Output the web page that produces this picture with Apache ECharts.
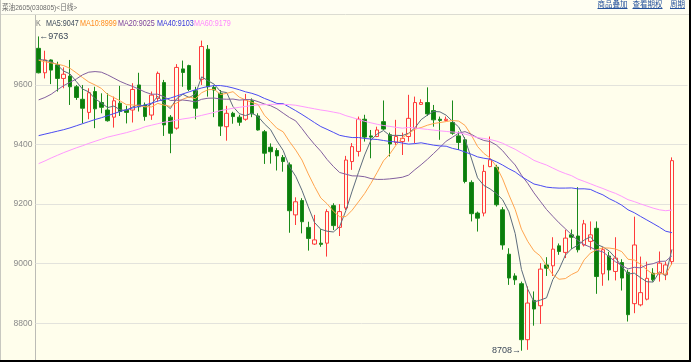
<!DOCTYPE html>
<html><head><meta charset="utf-8">
<script src="https://cdn.jsdelivr.net/npm/echarts@6/dist/echarts.min.js"></script>
<style>html,body{margin:0;padding:0;background:#fffeec;}#c{width:691px;height:362px;}</style>
</head><body><div id="c"></div>
<script>
// ---- data ----
const opens  = [9723,9641,9684,9667,9622,9630,9594,9552,9508,9578,9541,9516,9492,9539,9516,9516,9600,9533,9499,9555,
                9608,9492,9455,9654,9665,9581,9619,9720,9592,9572,9460,9505,9492,9485,9547,9496,9443,9391,9380,9357,
                9332,9164,9212,9122,9066,9069,9069,9195,9122,9187,9343,9377,9485,9429,9427,9477,9433,9407,9410,9427,
                9455,9535,9541,9514,9485,9481,9474,9429,9416,9273,9170,9170,9326,9324,9181,9032,8959,8933,8745,8877,
                8859,8996,8993,9060,9038,9097,9093,9063,9075,9119,8966,9026,8974,9004,8971,8866,8862,8881,8968,8966,
                8963,9007];
const closes = [9641,9684,9650,9622,9636,9594,9558,9522,9574,9520,9525,9480,9547,9511,9508,9585,9527,9494,9566,9639,
                9466,9438,9659,9642,9585,9522,9729,9594,9583,9462,9505,9494,9475,9550,9503,9449,9371,9376,9362,9343,
                9178,9208,9141,9085,9080,9065,9175,9128,9175,9348,9393,9485,9425,9425,9449,9452,9402,9427,9421,9488,
                9541,9541,9503,9483,9481,9485,9438,9407,9276,9168,9153,9310,9349,9198,9063,8952,8946,8745,8868,8848,
                8982,8985,9049,9041,9086,9089,9047,9134,9097,8957,9047,8979,9019,8952,8829,9063,8903,8951,8946,9002,
                8996,9346];
const lows   = [9639,9622,9603,9578,9589,9533,9550,9471,9485,9455,9505,9477,9457,9496,9471,9474,9511,9480,9483,9544,
                9429,9371,9450,9594,9580,9485,9600,9561,9492,9429,9413,9470,9463,9480,9492,9447,9335,9336,9313,9309,
                9104,9130,9102,9044,9063,9057,9024,9113,9093,9180,9315,9360,9410,9354,9425,9449,9360,9399,9365,9410,
                9405,9533,9496,9460,9416,9478,9433,9382,9270,9142,9108,9159,9324,9192,9047,8929,8929,8708,8711,8792,
                8798,8959,8959,9030,9019,9050,9038,9058,9047,8899,8926,8944,8944,8910,8806,8834,8857,8877,8940,8940,
                8945,8996];
const highs  = [9763,9715,9686,9678,9659,9684,9600,9600,9589,9594,9572,9572,9561,9597,9530,9606,9641,9541,9578,9645,
                9617,9499,9670,9682,9668,9594,9749,9734,9600,9583,9530,9510,9500,9570,9555,9505,9449,9404,9388,9365,
                9340,9223,9220,9141,9164,9116,9183,9203,9200,9362,9405,9494,9500,9449,9460,9548,9440,9483,9440,9567,
                9561,9552,9592,9533,9494,9494,9548,9444,9425,9280,9175,9332,9427,9332,9190,9052,8968,8940,8924,8907,
                9002,9022,9089,9068,9114,9115,9257,9147,9142,9142,9056,9040,9089,9015,8980,9158,9024,9007,8985,9041,
                9007,9357];
// moving-average values before each window is full
const ma5Lead  = [9686,9683,9678,9667];
const ma10Lead = [9683,9678,9674,9670,9665,9656,9641,9625,9610];
const ma20Lead = [9550,9558,9569,9584,9598,9609,9620,9634,9643,9645,9643,9634,9623,9612,9603,9595,9586,9576,9569];
const ma40Lead = [9430,9435,9440,9445,9450,9456,9463,9470,9477,9484,9490,9497,9504,9511,9517,9523,9528,9533,9539,9546,
                  9551,9556,9563,9570,9577,9584,9590,9595,9598,9598,9595,9590,9584,9577,9572,9565,9555,9547,9538];
const ma60Lead = [9336,9345,9355,9364,9373,9381,9389,9396,9404,9411,9418,9425,9430,9435,9440,9446,9452,9460,9465,9470,
                  9475,9478,9482,9486,9489,9493,9498,9503,9508,9514,9518,9522,9525,9528,9531,9533,9534,9535,9535,9535,
                  9534,9532,9528,9524,9520,9516,9513,9509,9505,9497,9491,9484,9478,9473,9468,9464,9461,9458,9455];
const yTicks = [8800,9000,9200,9400,9600];
const titleText = '菜油2605(030805)<日线>';
const legendTexts = ['K','MA5:9047','MA10:8999','MA20:9025','MA40:9103','MA60:9179'];
const linkTexts = ['商品叠加','查看期权','周期'];

// ---- chart ----
const categories = closes.map((_, i) => String(i + 1));
function movingAverage(period, lead) {
  return closes.map((c, i) => {
    if (i < period - 1) return lead[i];
    let s = 0;
    for (let k = i - period + 1; k <= i; k++) s += closes[k];
    return +(s / period).toFixed(1);
  });
}
const BG = '#fffeec';
const SANS = "'Liberation Sans',Arial,sans-serif";
const CJK = "'Liberation Sans','Noto Sans CJK SC',sans-serif";
const maColors = ['#5d6c7c','#ffa54f','#83609f','#4b4bf2','#ff99ff'];
const legendColors = ['#777777','#3e4b5b','#ff8a1c','#7a3f9c','#3535dc','#ff88ff'];
const legendX = [36,46,80,118,157,194];
const linkX = [597.5,632.5,670];

const chart = echarts.init(document.getElementById('c'), null, {renderer:'canvas'});
const maSeries = [[5,ma5Lead],[10,ma10Lead],[20,ma20Lead],[40,ma40Lead],[60,ma60Lead]].map((p, j) => ({
  type: 'line', name: 'MA' + p[0], data: movingAverage(p[0], p[1]),
  symbol: 'none', showSymbol: false, silent: true, z: 3,
  lineStyle: { width: 1, color: maColors[j] }
}));

const graphics = [
  { type:'rect', shape:{x:0,y:0,width:691,height:14.5}, style:{fill:'#fffef2'}, z:-1 },
  { type:'line', shape:{x1:0,y1:14.5,x2:691,y2:14.5}, style:{stroke:'#dcdcd2',lineWidth:1} },
  { type:'line', shape:{x1:0.5,y1:0,x2:0.5,y2:362}, style:{stroke:'#c8c8c0',lineWidth:1} },
  { type:'line', shape:{x1:35.5,y1:15,x2:35.5,y2:362}, style:{stroke:'#bcbcb6',lineWidth:1} },
  { type:'rect', shape:{x:0,y:360,width:691,height:2}, style:{fill:'#000'} },
  { type:'rect', shape:{x:689,y:0,width:2,height:362}, style:{fill:'#000'} },
  { type:'text', x:2, y:8, scaleX:0.88, style:{text:titleText, fill:'#6a6a6a', font:"7.5px " + CJK, textVerticalAlign:'middle'} }
];
legendTexts.forEach((t, i) => graphics.push({
  type:'text', x:legendX[i], y:24, scaleX:0.8,
  style:{text:t, fill:legendColors[i], font:"9px " + SANS, textVerticalAlign:'middle'}
}));
linkTexts.forEach((t, i) => {
  const w = t.length * 7.5;
  graphics.push({ type:'text', x:linkX[i], y:4.6,
    style:{text:t, fill:'#24519c', font:"7.5px 'Noto Sans CJK SC',sans-serif", textVerticalAlign:'middle'} });
  graphics.push({ type:'line', shape:{x1:linkX[i], y1:8.5, x2:linkX[i]+w, y2:8.5},
    style:{stroke:'#24519c', lineWidth:1} });
});

chart.setOption({
  backgroundColor: BG,
  animation: false,
  grid: { left: 35.5, width: 652.1, top: 25.4, height: 357.5, outerBoundsMode: 'none', containLabel: false },
  xAxis: { type:'category', data: categories, max: 103, boundaryGap: true, show: false },
  yAxis: {
    type:'value', min: 8600, max: 9800, interval: 200, scale: false,
    axisLine:{show:false}, axisTick:{show:false},
    axisLabel:{ margin: 3, fontSize: 8.5, color:'#8a8a8a', fontFamily: SANS,
      showMaxLabel:false, showMinLabel:false,
      formatter: v => yTicks.indexOf(v) >= 0 ? String(v) : '' },
    splitLine:{ show:true, showMaxLine:false, showMinLine:false, lineStyle:{ color:'#e3e3dc', width:1 } }
  },
  series: [{
    type:'candlestick', name:'K', barWidth: 4, z: 2,
    data: opens.map((o, i) => [o, closes[i], lows[i], highs[i]]),
    itemStyle:{ color: BG, color0:'#0b7d0b', borderColor:'#ff3b3b', borderColor0:'#1a8a1a', borderWidth:1 },
    markPoint:{
      symbol:'circle', symbolSize:1, itemStyle:{color:'rgba(0,0,0,0)'}, silent:true,
      label:{ show:true, fontSize:9, color:'#3c4858', fontFamily: SANS },
      data:[
        { type:'max', valueDim:'highest', label:{ position:'right', distance:0, formatter:'←{c}' } },
        { type:'min', valueDim:'lowest',  label:{ position:'left',  distance:0, formatter:'{c}→' } }
      ]
    }
  }].concat(maSeries),
  graphic: graphics
});
</script></body></html>
